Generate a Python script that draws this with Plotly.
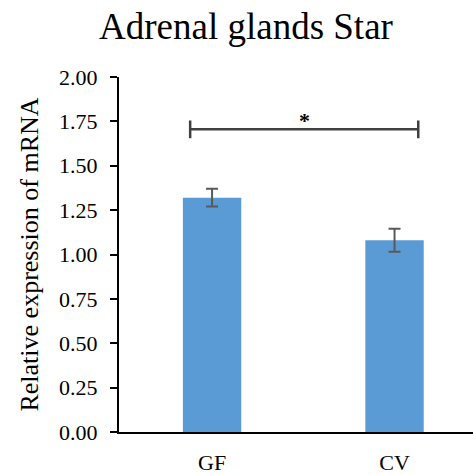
import plotly.graph_objects as go

# Relative mRNA expression of Star in adrenal glands
groups = ["GF", "CV"]
means = [1.32, 1.08]
errors = [0.05, 0.065]
y_ticks = [0.0, 0.25, 0.5, 0.75, 1.0, 1.25, 1.5, 1.75, 2.0]
y_tick_labels = ["0.00", "0.25", "0.50", "0.75", "1.00", "1.25", "1.50", "1.75", "2.00"]

# Significance bracket between the two groups
sig_level = 1.705
sig_label = "*"

serif = "Liberation Serif, Times New Roman, serif"
idx = list(range(len(groups)))

fig = go.Figure()
fig.add_trace(go.Bar(
    x=idx, y=means, width=0.32,
    marker=dict(color="#5B9BD5", line=dict(width=0)),
    error_y=dict(type="data", array=errors, visible=True,
                 color="#595959", thickness=2, width=6),
))

# bracket spans slightly outside the bar centres
left, right = idx[0] - 0.12, idx[-1] + 0.13
fig.add_shape(type="line", x0=left, x1=right, y0=sig_level, y1=sig_level,
              line=dict(color="#404040", width=2.5))
for xe in (left, right):
    fig.add_shape(type="line", x0=xe, x1=xe, y0=sig_level - 0.05, y1=sig_level + 0.05,
                  line=dict(color="#404040", width=2.5))
fig.add_annotation(x=(left + right) / 2, y=sig_level + 0.08, text="<b>" + sig_label + "</b>",
                   showarrow=False, yanchor="middle", yshift=-5,
                   font=dict(family=serif, size=22, color="black"))

fig.update_layout(
    width=473, height=475,
    margin=dict(l=119, r=0, t=77, b=39),
    paper_bgcolor="white", plot_bgcolor="white",
    showlegend=False,
    font=dict(family=serif, size=21, color="black"),
    title=dict(text="Adrenal glands Star", x=0.52, xanchor="center",
               y=0.945, yanchor="middle",
               font=dict(family=serif, size=37, color="black")),
    xaxis=dict(tickmode="array", tickvals=idx, ticktext=groups,
               range=[-0.51, 1.43], showline=True, linecolor="black", linewidth=2,
               ticks="", showgrid=False, zeroline=False,
               tickfont=dict(family=serif, size=22, color="black"),
               ticklabelstandoff=10),
    yaxis=dict(range=[0, 2.0], tickvals=y_ticks, ticktext=y_tick_labels,
               showline=True, linecolor="black", linewidth=2,
               ticks="outside", ticklen=7, tickwidth=2, tickcolor="black",
               showgrid=False, zeroline=False,
               tickfont=dict(family=serif, size=22, color="black"),
               ticklabelstandoff=8,
               title=dict(text="Relative expression of mRNA", standoff=13,
                          font=dict(family=serif, size=26, color="black"))),
)

fig.write_html("out.html")
